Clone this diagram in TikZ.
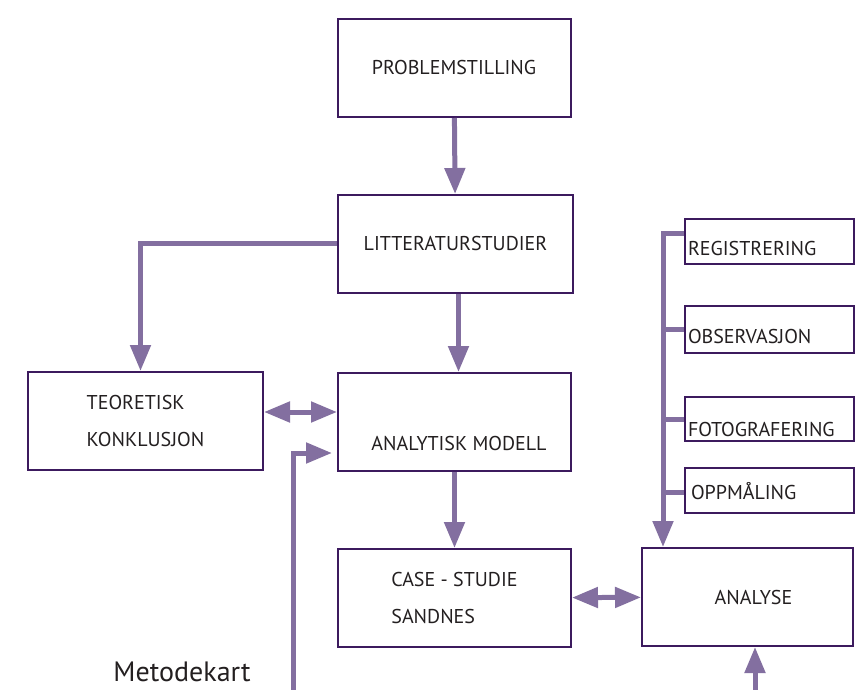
\documentclass[tikz,border=0pt]{standalone}
\usepackage{fontspec}
\setmainfont{PT Sans}
\usetikzlibrary{arrows.meta}
\definecolor{boxline}{RGB}{60,26,94}
\definecolor{flowline}{RGB}{131,111,160}
\definecolor{txt}{RGB}{35,31,32}

\begin{document}
\begin{tikzpicture}[x=1pt,y=-1pt,
    >={Triangle[length=26pt,width=20pt]},
    box/.style={draw=boxline,line width=2pt,minimum width=233pt,minimum height=98pt,
        inner sep=0pt,text=txt,font=\fontsize{20}{37}\selectfont},
    smallbox/.style={draw=boxline,line width=2pt,minimum width=169pt,minimum height=45pt,
        anchor=north west,inner xsep=3pt,inner ysep=0pt,text width=163pt,align=left,
        text=txt,font=\fontsize{20}{22}\selectfont},
    low/.style={text height=#1,text depth=0pt},
    flow/.style={draw=flowline,line width=5pt}]
    \useasboundingbox (0,0) rectangle (855,690);
    % \draw[step=50pt,gray!30] (0,0) grid (855,690);

    \node[box] (problem) at (454,68) {PROBLEMSTILLING};
    \node[box,minimum width=235pt] (litt) at (455.5,244) {LITTERATURSTUDIER};
    \node[box,minimum width=235pt,align=left] (teor) at (145.5,421) {TEORETISK\\KONKLUSJON};
    \node[box] (modell) at (454.5,422) {};
    \node[text=txt,font=\fontsize{20}{22}\selectfont] (modelltxt) at (459,443) {ANALYTISK MODELL};
    \node[box,align=left] (case) at (454.5,598) {CASE - STUDIE\\SANDNES};
    \node[box,minimum width=211pt] (analyse) at (747.5,597) {\hspace*{12pt}ANALYSE};

    \node[smallbox,low=27pt] (reg) at (684,218) {REGISTRERING};
    \node[smallbox,low=28pt,minimum height=47pt] (obs) at (684,305) {OBSERVASJON};
    \node[smallbox,low=34pt,minimum height=44pt] (foto) at (684,396) {FOTOGRAFERING};
    \node[smallbox,low=18pt] (oppm) at (684,467) {\hspace*{3pt}OPPMÅLING};

    \node[text=txt,inner sep=0pt,font=\fontsize{28}{32}\selectfont] (kart) at (182,672) {Metodekart};

    \coordinate (trunk) at (663,234);
    \coordinate (kartin) at (293,690);
    \coordinate (analysein) at (755,690);

    \draw[flow,->] (problem) -- (litt);
    \draw[flow,->] ([xshift=3pt]litt.south) -- ([xshift=3pt]litt.south |- modell.north);
    \draw[flow,->] (litt.west) -| ([xshift=-5pt]teor.north);
    \draw[flow,<->] ([yshift=9pt]teor.east) -- ([yshift=9pt]teor.east -| modell.west);
    \draw[flow,->,shorten >=5pt] (kartin) |- ([yshift=-31pt]modell.west);
    \draw[flow,->] (modell) -- (case);
    \draw[flow,<->] (case) -- (analyse);
    \draw[flow,->] (analysein) -- (analysein |- analyse.south);

    \draw[flow,->] (trunk -| reg.west) -- (trunk) -- (trunk |- analyse.north);
    \draw[flow] (obs.west) -- (obs.west -| trunk);
    \draw[flow] (foto.west) -- (foto.west -| trunk);
    \draw[flow] ([yshift=-2pt]oppm.west) -- ([yshift=-2pt]oppm.west -| trunk);
\end{tikzpicture}
\end{document}
